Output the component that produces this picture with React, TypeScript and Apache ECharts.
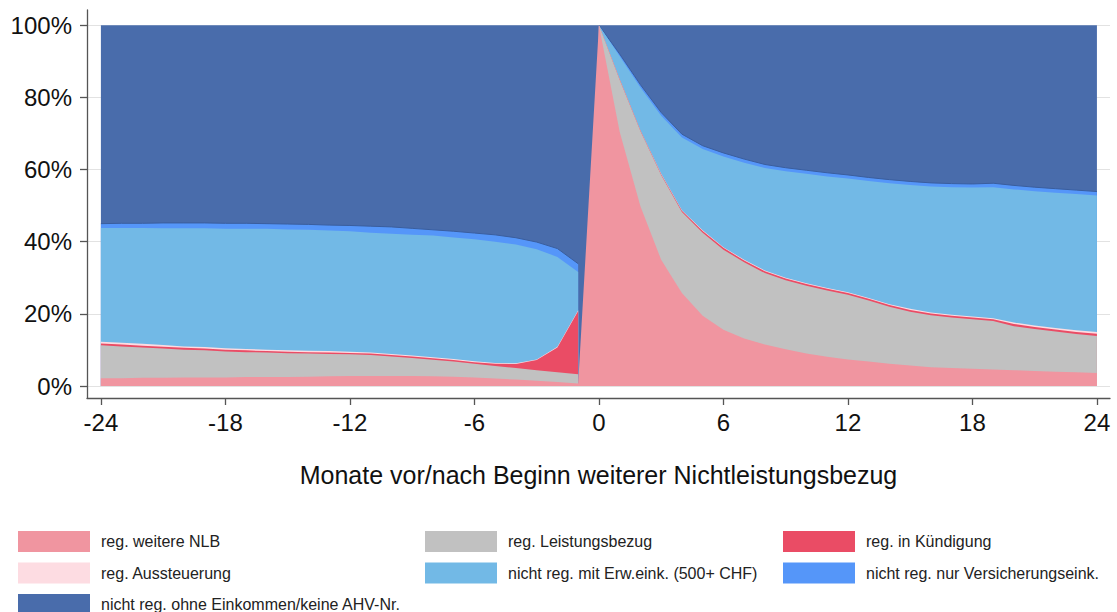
import React, { useEffect, useRef } from "react";
import * as echarts from "echarts";

// Months relative to the start of the further non-benefit receipt
const monthsBefore = [-24, -23, -22, -21, -20, -19, -18, -17, -16, -15, -14, -13, -12, -11, -10, -9, -8, -7, -6, -5, -4, -3, -2, -1];
const monthsAfter = [0, 1, 2, 3, 4, 5, 6, 7, 8, 9, 10, 11, 12, 13, 14, 15, 16, 17, 18, 19, 20, 21, 22, 23, 24];
const xTickValues = [-24, -18, -12, -6, 0, 6, 12, 18, 24];
const yTickValues = [0, 20, 40, 60, 80, 100];

const axisTitle = "Monate vor/nach Beginn weiterer Nichtleistungsbezug";

const nameNLB = "reg. weitere NLB";
const nameLeist = "reg. Leistungsbezug";
const nameKuend = "reg. in Kündigung";
const nameAuss = "reg. Aussteuerung";
const nameErw = "nicht reg. mit Erw.eink. (500+ CHF)";
const nameVers = "nicht reg. nur Versicherungseink.";
const nameOhne = "nicht reg. ohne Einkommen/keine AHV-Nr.";

// shares in % (before: months -24..-1, after: months 0..24)
const nlbBefore = [2.2, 2.2, 2.3, 2.3, 2.4, 2.4, 2.4, 2.5, 2.5, 2.5, 2.6, 2.7, 2.8, 2.8, 2.8, 2.8, 2.7, 2.6, 2.4, 2.1, 1.8, 1.5, 1.1, 0.7];
const leistBefore = [9.1, 8.8, 8.4, 8.1, 7.7, 7.5, 7.2, 6.9, 6.8, 6.6, 6.4, 6.2, 6.0, 5.8, 5.4, 5.0, 4.6, 4.2, 3.8, 3.5, 3.2, 2.9, 2.7, 2.6];
const kuendBefore = [0.5, 0.5, 0.5, 0.5, 0.5, 0.5, 0.5, 0.5, 0.4, 0.4, 0.4, 0.4, 0.4, 0.4, 0.4, 0.4, 0.4, 0.4, 0.4, 0.6, 1.1, 2.8, 6.9, 17.5];
const aussBefore = [0.5, 0.5, 0.5, 0.5, 0.4, 0.4, 0.4, 0.4, 0.4, 0.4, 0.4, 0.4, 0.3, 0.3, 0.3, 0.3, 0.3, 0.3, 0.3, 0.2, 0.2, 0.2, 0.2, 0.2];
const erwBefore = [31.5, 31.8, 32.1, 32.3, 32.7, 32.9, 33.1, 33.3, 33.5, 33.5, 33.5, 33.4, 33.4, 33.2, 33.3, 33.4, 33.7, 33.7, 33.8, 33.6, 32.9, 30.5, 24.9, 10.6];
const versBefore = [1.2, 1.3, 1.3, 1.5, 1.5, 1.5, 1.5, 1.5, 1.4, 1.5, 1.5, 1.5, 1.6, 1.8, 1.9, 1.8, 1.6, 1.7, 1.7, 1.9, 1.9, 2.0, 2.3, 2.3];
const ohneBefore = [55.0, 54.9, 54.9, 54.8, 54.8, 54.8, 54.9, 54.9, 55.0, 55.1, 55.2, 55.4, 55.5, 55.7, 55.9, 56.3, 56.7, 57.1, 57.6, 58.1, 58.9, 60.1, 61.9, 66.1];

const nlbAfter = [100, 70.5, 49.8, 35.0, 25.8, 19.5, 15.6, 13.2, 11.5, 10.2, 9.0, 8.1, 7.4, 6.8, 6.2, 5.7, 5.2, 5.0, 4.8, 4.6, 4.4, 4.2, 4.0, 3.8, 3.6];
const leistAfter = [0, 14.4, 20.9, 23.5, 22.4, 23.0, 22.2, 21.1, 19.8, 19.1, 18.8, 18.4, 17.9, 16.9, 15.8, 14.9, 14.4, 14.0, 13.7, 13.4, 12.2, 11.6, 11.1, 10.6, 10.3];
const kuendAfter = [0, 0.1, 0.1, 0.2, 0.4, 0.5, 0.5, 0.5, 0.5, 0.5, 0.5, 0.5, 0.5, 0.5, 0.5, 0.5, 0.5, 0.5, 0.5, 0.5, 0.6, 0.6, 0.6, 0.6, 0.6];
const aussAfter = [0, 0, 0, 0.1, 0.1, 0.2, 0.2, 0.2, 0.2, 0.2, 0.2, 0.2, 0.2, 0.2, 0.2, 0.3, 0.3, 0.3, 0.3, 0.3, 0.4, 0.4, 0.4, 0.5, 0.5];
const erwAfter = [0, 6.4, 11.9, 16.1, 20.2, 22.5, 25.1, 26.9, 28.4, 29.5, 30.3, 30.9, 31.5, 32.4, 33.5, 34.3, 34.9, 35.3, 35.7, 36.3, 36.9, 37.2, 37.5, 37.7, 37.8];
const versAfter = [0, 0.6, 0.8, 0.9, 0.9, 0.9, 1.0, 1.0, 1.0, 1.0, 1.0, 1.0, 1.0, 1.0, 1.0, 1.0, 1.0, 1.0, 1.0, 1.1, 1.1, 1.1, 1.1, 1.1, 1.1];
const ohneAfter = [0, 8.0, 16.5, 24.2, 30.2, 33.4, 35.4, 37.1, 38.6, 39.5, 40.2, 40.9, 41.5, 42.2, 42.8, 43.3, 43.7, 43.9, 44.0, 43.8, 44.4, 44.9, 45.3, 45.7, 46.1];

const FONT = '"Liberation Sans", Arial, Helvetica, sans-serif';

type Layer = { name: string; color: string; edge?: string; before: number[]; after: number[] };

// stacking order from bottom to top
const layers: Layer[] = [
  { name: nameNLB, color: "#f095a0", before: nlbBefore, after: nlbAfter },
  { name: nameLeist, color: "#c1c1c1", before: leistBefore, after: leistAfter },
  { name: nameKuend, color: "#ea4c65", before: kuendBefore, after: kuendAfter },
  { name: nameAuss, color: "#fddce2", before: aussBefore, after: aussAfter },
  { name: nameErw, color: "#72b9e6", before: erwBefore, after: erwAfter },
  { name: nameVers, color: "#5596f9", edge: "#3a5e9e", before: versBefore, after: versAfter },
  { name: nameOhne, color: "#496cab", before: ohneBefore, after: ohneAfter },
];

function cumulative(key: "before" | "after", upTo: number): number[] {
  const n = layers[0][key].length;
  const out: number[] = [];
  for (let j = 0; j < n; j++) {
    let s = 0;
    for (let i = 0; i <= upTo; i++) s += layers[i][key][j];
    out.push(Math.round(s * 100) / 100);
  }
  return out;
}

function areaSeries(name: string, color: string, xs: number[], ys: number[], z: number, edge?: string) {
  return {
    type: "line",
    name,
    data: xs.map((x, k) => [x, ys[k]]),
    symbol: "none",
    showSymbol: false,
    silent: true,
    z,
    itemStyle: { color },
    lineStyle: edge ? { width: 1, color: edge } : { width: 0, color },
    areaStyle: { color, opacity: 1, origin: 0 },
  };
}

const series: any[] = [];
layers.forEach((layer, i) => {
  const cb = cumulative("before", i);
  const ca = cumulative("after", i);
  const z = 10 - i;
  if (i === 0 || i === layers.length - 1) {
    series.push(areaSeries(layer.name, layer.color, [...monthsBefore, ...monthsAfter], [...cb, ...ca], z));
  } else {
    series.push(areaSeries(layer.name, layer.color, monthsBefore, cb, z, layer.edge));
    series.push(areaSeries(layer.name, layer.color, monthsAfter, ca, z, layer.edge));
  }
});

const legendCommon = {
  orient: "vertical",
  icon: "rect",
  itemWidth: 72,
  itemHeight: 21,
  itemGap: 10.5,
  padding: 0,
  selectedMode: false,
  textStyle: { fontSize: 16, color: "#222", fontFamily: FONT, padding: [0, 0, 0, 6] },
};

const option = {
  animation: false,
  backgroundColor: "#ffffff",
  textStyle: { fontFamily: FONT },
  grid: { left: 87, right: 7, top: 10, bottom: 214, containLabel: false },
  xAxis: {
    type: "value",
    min: -24.67,
    max: 24.63,
    axisLine: { show: true, onZero: false, lineStyle: { color: "#555", width: 1.3 } },
    axisTick: { show: true, length: 7, customValues: xTickValues, lineStyle: { color: "#555", width: 1.3 } },
    axisLabel: { customValues: xTickValues, fontSize: 24, color: "#111", margin: 12, fontFamily: FONT },
    splitLine: { show: false },
    name: axisTitle,
    nameLocation: "middle",
    nameGap: 64,
    nameTextStyle: { fontSize: 25, color: "#111", fontFamily: FONT },
  },
  yAxis: {
    type: "value",
    min: -3.3,
    max: 104.2,
    axisLine: { show: true, onZero: false, lineStyle: { color: "#555", width: 1.3 } },
    axisTick: { show: true, length: 7, customValues: yTickValues, lineStyle: { color: "#555", width: 1.3 } },
    axisLabel: { customValues: yTickValues, formatter: "{value}%", fontSize: 24, color: "#111", margin: 15, fontFamily: FONT },
    splitLine: { show: true, lineStyle: { color: "#e2e2e2", width: 1 } },
  },
  legend: [
    { ...legendCommon, left: 18, top: 531, data: [nameNLB, nameAuss] },
    { ...legendCommon, left: 18, top: 594, data: [nameOhne] },
    { ...legendCommon, left: 425, top: 531, data: [nameLeist, nameErw] },
    { ...legendCommon, left: 783, top: 531, data: [nameKuend, nameVers] },
  ],
  series,
};

export default function App() {
  const ref = useRef<HTMLDivElement>(null);
  useEffect(() => {
    if (!ref.current) return;
    const chart = echarts.init(ref.current, undefined, { renderer: "svg" });
    chart.setOption(option as any);
    return () => chart.dispose();
  }, []);
  return <div ref={ref} style={{ position: "fixed", left: 0, top: 0, width: 1117, height: 612 }} />;
}
